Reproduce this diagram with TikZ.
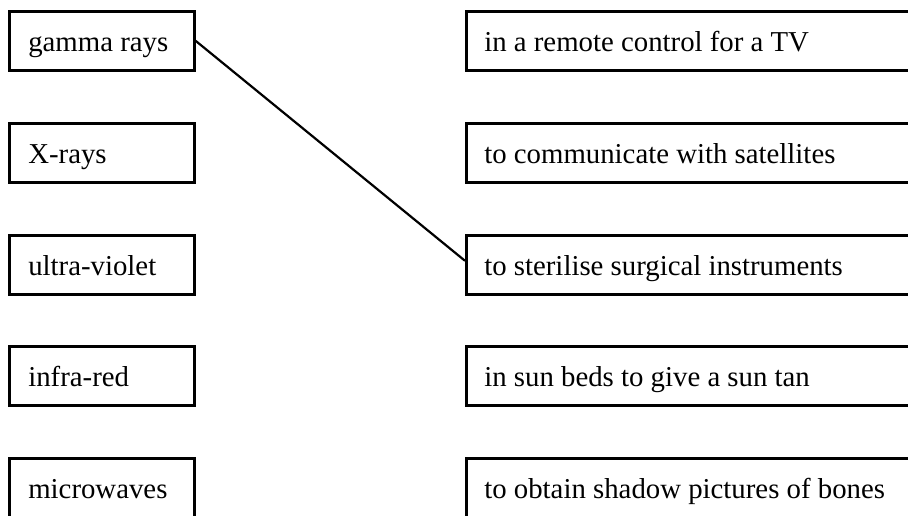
\documentclass[tikz,border=0pt]{standalone}
\usepackage{fontspec}
\setmainfont{Liberation Serif}
\newcommand{\lbx}[1]{\makebox[147pt][l]{#1}}
\newcommand{\rbx}[1]{\makebox[434pt][l]{#1}}
\begin{document}
\begin{tikzpicture}[x=1pt,y=-1pt,
  leftbox/.style={draw, line width=2.6pt, rectangle, anchor=north west,
    minimum height=59pt, inner ysep=0pt, inner xsep=19pt,
    text height=24pt, text depth=2pt,
    font=\fontsize{28.8}{30}\selectfont},
  rightbox/.style={leftbox, inner xsep=18pt},
  link/.style={line width=2.2pt}]
\useasboundingbox (0,0) rectangle (908,516);
\clip (0,0) rectangle (908,516);
\node[leftbox] (l1) at (8,10) {\lbx{gamma rays}};
\node[leftbox] (l2) at (8,122) {\lbx{X-rays}};
\node[leftbox] (l3) at (8,234) {\lbx{ultra-violet}};
\node[leftbox] (l4) at (8,345) {\lbx{infra-red}};
\node[leftbox] (l5) at (8,457) {\lbx{microwaves}};
\node[rightbox] (r1) at (465,10) {\rbx{in a remote control for a TV}};
\node[rightbox] (r2) at (465,122) {\rbx{to communicate with satellites}};
\node[rightbox] (r3) at (465,234) {\rbx{to sterilise surgical instruments}};
\node[rightbox] (r4) at (465,345) {\rbx{in sun beds to give a sun tan}};
\node[rightbox] (r5) at (465,457) {\rbx{to obtain shadow pictures of bones}};
\draw[link] (l1.east) -- ([yshift=4pt]r3.west);
\end{tikzpicture}
\end{document}
